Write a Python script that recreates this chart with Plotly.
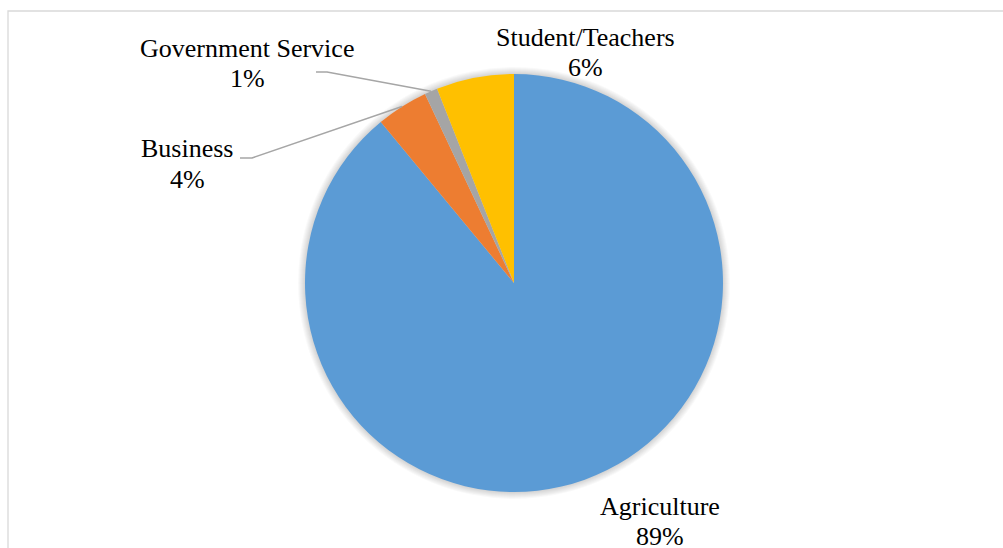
import math
import plotly.graph_objects as go

# Occupation shares (percent), drawn clockwise from 12 o'clock
categories = ["Agriculture", "Business", "Government Service", "Student/Teachers"]
shares = [89, 4, 1, 6]
colors = ["#5B9BD5", "#ED7D31", "#A5A5A5", "#FFC000"]

W, H = 1003, 548
CX, CY, R = 514, 283, 209  # pie centre and radius, in pixels from top-left

FONT = "Liberation Serif, Times New Roman, serif"
FONT_SIZE = 26


def px(x):
    return x / W


def py(y):
    return 1 - y / H


# Label placement (pixels): centre x, name centre y, percent centre y,
# and optional leader-line start / elbow points
label_layout = {
    "Agriculture": dict(x=660, y_name=506, y_pct=536),
    "Business": dict(x=187, y_name=149, y_pct=180, line_from=(240, 158), elbow=(252, 158)),
    "Government Service": dict(x=247, y_name=49, y_pct=79, line_from=(316, 72), elbow=(327, 72)),
    "Student/Teachers": dict(x=585, y_name=37, y_pct=68),
}

fig = go.Figure(
    go.Pie(
        labels=categories,
        values=shares,
        sort=False,
        direction="clockwise",
        rotation=0,
        marker=dict(colors=colors, line=dict(width=0)),
        textinfo="none",
        hoverinfo="label+percent",
        showlegend=False,
        domain=dict(x=[px(CX - R), px(CX + R)], y=[py(CY + R), py(CY - R)]),
    )
)

shapes = []

# soft shadow around the pie
for k in range(1, 8):
    rr = R + k
    shapes.append(dict(
        type="circle", xref="paper", yref="paper", layer="below",
        x0=px(CX - rr), x1=px(CX + rr), y0=py(CY + rr), y1=py(CY - rr),
        fillcolor="rgba(0,0,0,0.022)", line=dict(width=0),
    ))

# chart-area border (top and left edges visible)
shapes.append(dict(
    type="rect", xref="paper", yref="paper", layer="below",
    x0=px(8), x1=px(W + 5), y0=py(H + 5), y1=py(11),
    line=dict(color="#D9D9D9", width=1.3), fillcolor="rgba(0,0,0,0)",
))

annotations = []
total = sum(shares)
cum = 0.0
for name, val in zip(categories, shares):
    mid = (cum + val / 2) / total * 360.0
    cum += val
    pct = f"{round(val / total * 100)}%"
    lay = label_layout[name]
    annotations.append(dict(
        xref="paper", yref="paper", x=px(lay["x"]), y=py(lay["y_name"]),
        text=name, showarrow=False, xanchor="center", yanchor="middle",
        font=dict(family=FONT, size=FONT_SIZE, color="#000000"),
    ))
    annotations.append(dict(
        xref="paper", yref="paper", x=px(lay["x"]), y=py(lay["y_pct"]),
        text=pct, showarrow=False, xanchor="center", yanchor="middle",
        font=dict(family=FONT, size=FONT_SIZE, color="#000000"),
    ))
    if "line_from" in lay:
        th = math.radians(mid)
        ex = CX + R * math.sin(th)
        ey = CY - R * math.cos(th)
        (sx, sy), (kx, ky) = lay["line_from"], lay["elbow"]
        path = f"M {px(sx)} {py(sy)} L {px(kx)} {py(ky)} L {px(ex)} {py(ey)}"
        shapes.append(dict(
            type="path", xref="paper", yref="paper", path=path,
            line=dict(color="#A6A6A6", width=1.5),
        ))

fig.update_layout(
    width=W,
    height=H,
    margin=dict(l=0, r=0, t=0, b=0),
    paper_bgcolor="#FFFFFF",
    plot_bgcolor="#FFFFFF",
    shapes=shapes,
    annotations=annotations,
)

fig.write_html("out.html")
